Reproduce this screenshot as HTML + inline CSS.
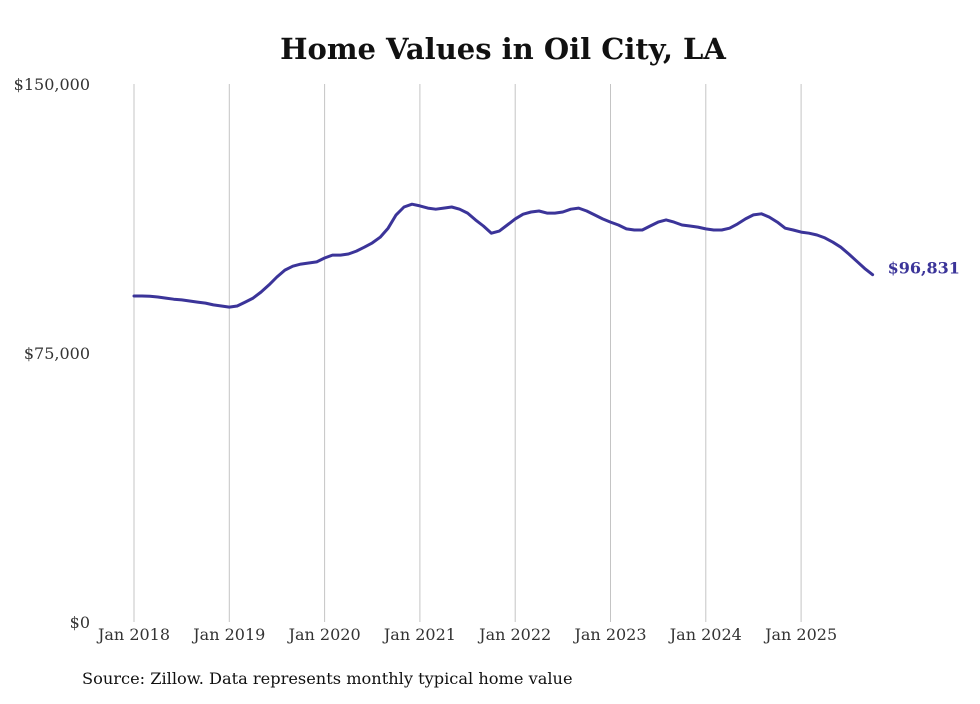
<!DOCTYPE html>
<html><head><meta charset="utf-8"><style>
body{margin:0;background:#fff;}
svg text{font-family:"DejaVu Serif","Liberation Serif",serif;}
</style></head><body>
<svg id="chart" width="980" height="699" viewBox="0 0 980 699" xmlns="http://www.w3.org/2000/svg">
<rect width="980" height="699" fill="#fff"/>
<text x="503" y="59" text-anchor="middle" font-size="29" font-weight="bold" fill="#111">Home Values in Oil City, LA</text>
<g id="grid"></g><g id="yaxis"></g><g id="xaxis"></g><g id="series"></g>
<text x="82" y="684" font-size="16.2" fill="#111">Source: Zillow. Data represents monthly typical home value</text>
</svg>
<script>
const yTicks=[0,75000,150000];
const yTickLabels=["$0","$75,000","$150,000"];
const xTickYears=[2018,2019,2020,2021,2022,2023,2024,2025];
const xTickLabels=["Jan 2018","Jan 2019","Jan 2020","Jan 2021","Jan 2022","Jan 2023","Jan 2024","Jan 2025"];
const startYear=2018;
const values=[
90.9,90.9,90.8,90.6,90.3,90.0,89.8,89.5,89.2,88.9,88.4,88.1,
87.8,88.1,89.2,90.3,92.0,94.0,96.2,98.1,99.2,99.8,100.1,100.4,
101.5,102.3,102.3,102.6,103.4,104.5,105.7,107.3,109.8,113.5,115.7,116.5,
116.0,115.4,115.1,115.4,115.7,115.1,114.0,112.1,110.4,108.4,109.0,110.7,
112.4,113.7,114.3,114.6,114.0,114.0,114.3,115.1,115.4,114.6,113.5,112.4,
111.5,110.7,109.6,109.3,109.3,110.4,111.5,112.1,111.5,110.7,110.4,110.1,
109.6,109.3,109.3,109.8,111.0,112.4,113.5,113.8,112.9,111.5,109.8,109.3,
108.7,108.4,107.9,107.1,105.9,104.5,102.6,100.6,98.6,96.831
].map(v=>v*1000);
const lastLabel="$96,831";
const NS="http://www.w3.org/2000/svg";
const y=v=>622-(v/150000)*538;
const x=m=>134+m*(95.3/12);
function mk(t,a,p){const e=document.createElementNS(NS,t);for(const k in a)e.setAttribute(k,a[k]);p.appendChild(e);return e;}
const grid=document.getElementById('grid'),ya=document.getElementById('yaxis'),xa=document.getElementById('xaxis'),se=document.getElementById('series');
xTickYears.forEach((yr,i)=>{
 const px=x((yr-startYear)*12);
 const l=mk('line',{x1:px,x2:px,y1:84,y2:622,stroke:'#c4c4c4','stroke-width':1},grid);
 
 
 const t=mk('text',{x:px,y:640,'text-anchor':'middle','font-size':16,fill:'#333'},xa);
 t.textContent=xTickLabels[i];
 
 
});
yTicks.forEach((v,i)=>{
 const t=mk('text',{x:90,y:y(v)+6,'text-anchor':'end','font-size':16,fill:'#333'},ya);
 t.textContent=yTickLabels[i];
 
 
});
const d=values.map((v,i)=>(i?'L':'M')+x(i).toFixed(1)+','+y(v).toFixed(1)).join(' ');
const p=mk('path',{d:d,fill:'none',stroke:'#3b3499','stroke-width':3,'stroke-linejoin':'round','stroke-linecap':'round'},se);


const n=values.length-1;
const lt=mk('text',{x:x(n)+15,y:y(values[n])-1,'font-size':16,'font-weight':'bold',fill:'#3b3499'},se);
lt.textContent=lastLabel;


</script>
</body></html>
